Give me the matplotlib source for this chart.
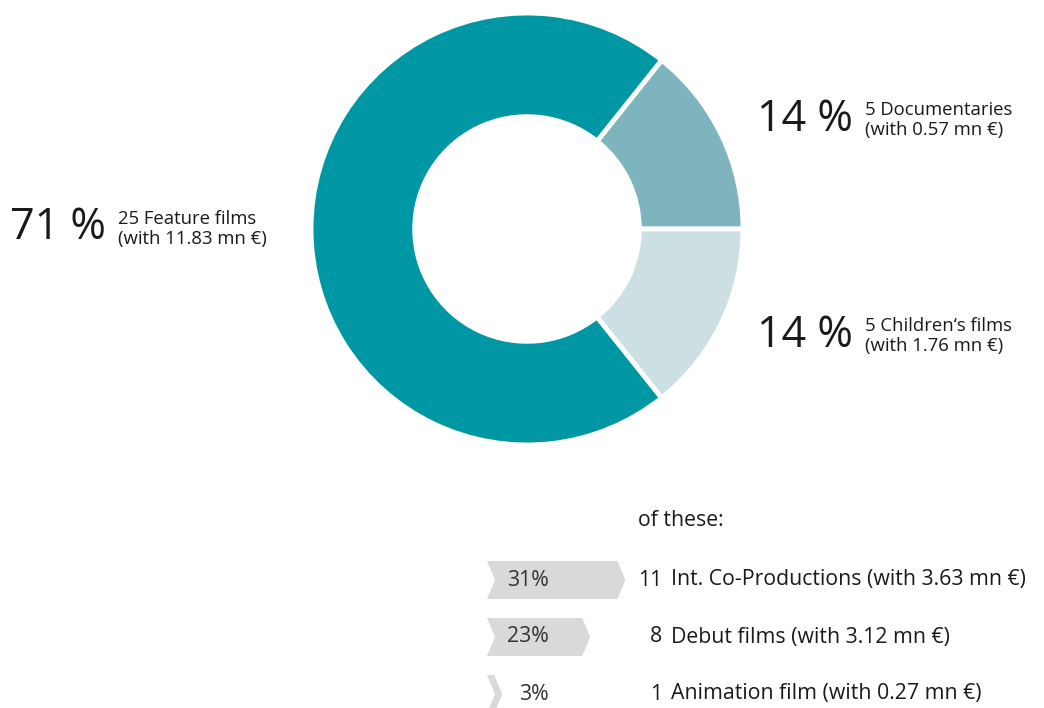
import matplotlib.pyplot as plt
from matplotlib.patches import Polygon

plt.rcParams['font.family'] = ['Open Sans', 'DejaVu Sans']

# donut data (number of films)
labels = ['Documentaries', 'Feature films', "Children's films"]
films = [5, 25, 5]
pcts = ['14 %', '71 %', '14 %']
subs = ['5 Documentaries\n(with 0.57 mn €)',
        '25 Feature films\n(with 11.83 mn €)',
        '5 Children\u2018s films\n(with 1.76 mn €)']
colors = ['#7db4be', '#0097a4', '#cce0e4']

# "of these" breakdown
sub_pct = [31, 23, 3]
sub_num = ['11', '8', '1']
sub_txt = ['Int. Co-Productions (with 3.63 mn €)',
           'Debut films (with 3.12 mn €)',
           'Animation film (with 0.27 mn €)']

W, H = 1044, 708
fig = plt.figure(figsize=(W / 100, H / 100), dpi=100)
ax = fig.add_axes([0, 0, 1, 1])

cx, cy, r = 527, H - 229, 216
ax.pie(films, colors=colors, startangle=0, counterclock=True,
       center=(cx, cy), radius=r, frame=True,
       wedgeprops=dict(width=r * 0.48, edgecolor='white', linewidth=3.5))

ax.set_xlim(0, W)
ax.set_ylim(0, H)
ax.set_aspect('equal')
ax.axis('off')

tc = '#1a1a1a'
# positions of big label and the two-line text (pixel coords, y from top)
big_pos = [(757, 120), (10, 228), (757, 336)]
sub_pos = [(865, 120), (118, 229), (865, 336)]
for p, s, (bx, by), (sx, sy) in zip(pcts, subs, big_pos, sub_pos):
    ax.text(bx, H - by, p, fontsize=31, color=tc,
            ha='left', va='center')
    ax.text(sx, H - sy, s, fontsize=13.3, color=tc, ha='left', va='center',
            linespacing=1.15)

fs = 15.3
ax.text(638, H - 521, 'of these:', fontsize=fs, color=tc, ha='left', va='center')

x0, h, d = 487, 38, 8
for i, (pc, n, t) in enumerate(zip(sub_pct, sub_num, sub_txt)):
    yc = H - (580 + i * 57)
    w = pc * 4.4 - 6
    poly = Polygon([(x0, yc + h / 2), (x0 + w, yc + h / 2), (x0 + w + d, yc),
                    (x0 + w, yc - h / 2), (x0, yc - h / 2), (x0 + d, yc)],
                   closed=True, facecolor='#d9d9d9', edgecolor='none')
    ax.add_patch(poly)
    ax.text(549, yc, f'{pc}%', fontsize=fs, color='#333333', ha='right', va='center')
    ax.text(662, yc, n, fontsize=fs, color=tc, ha='right', va='center')
    ax.text(671, yc, t, fontsize=fs, color=tc, ha='left', va='center')

fig.savefig('out.png', dpi=100)
